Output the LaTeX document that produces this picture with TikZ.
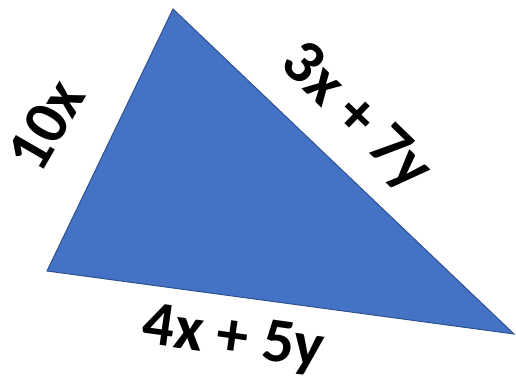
\documentclass[tikz,border=0pt]{standalone}
\usepackage{fontspec}
\setmainfont{Carlito}
\begin{document}
\begin{tikzpicture}[x=1pt, y=1pt,
        every node/.style={font=\fontsize{63}{70}\selectfont\bfseries, inner sep=0pt},
        triangulo/.style={fill=triblue, draw=triedge, line width=1pt, line join=miter}
    ]
    \definecolor{triblue}{HTML}{4472C4}
    \definecolor{triedge}{HTML}{2F528F}
    \useasboundingbox (0,0) rectangle (516,384);
    \coordinate (A) at (173,375);
    \coordinate (B) at (47,113);
    \coordinate (C) at (514,50);
    \draw[triangulo] (A) -- (B) -- (C) -- cycle;
    \node[rotate=60] (L1) at (46,259) {10x};
    \node[rotate=-44] (L2) at (355,266) {3x + 7y};
    \node[rotate=-8] (L3) at (233,44) {4x + 5y};
\end{tikzpicture}
\end{document}
